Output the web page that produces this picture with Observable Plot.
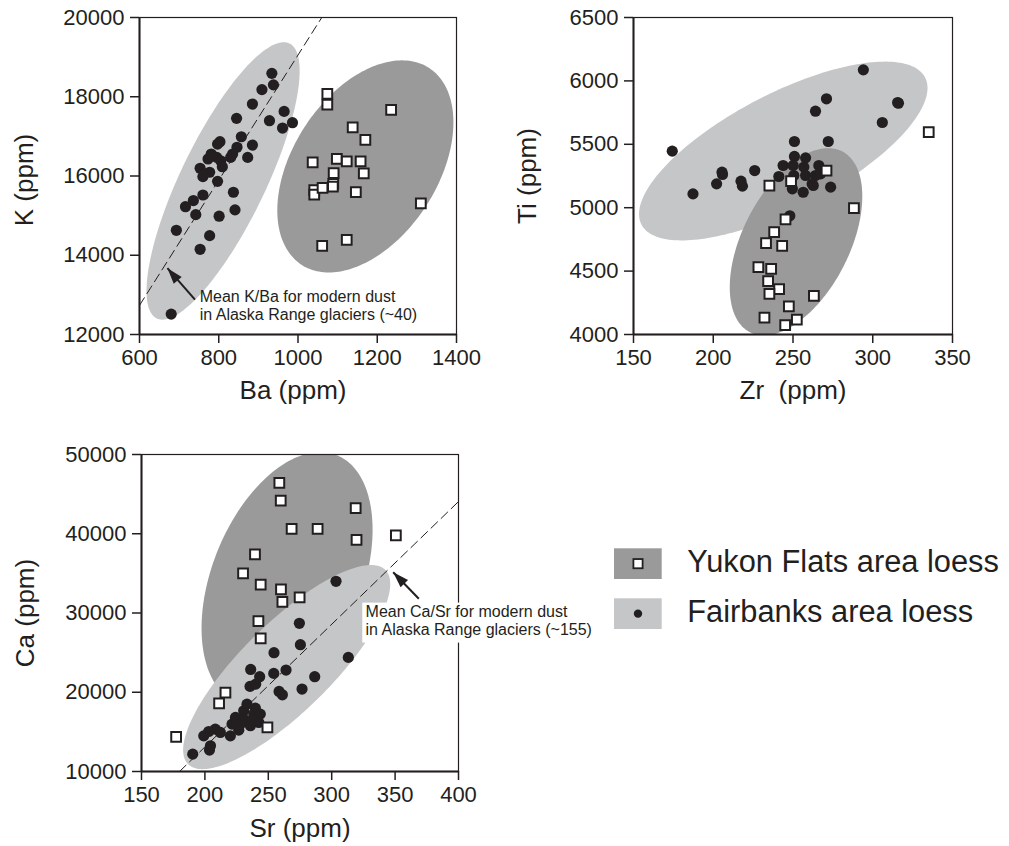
<!DOCTYPE html>
<html>
<head>
<meta charset="utf-8">
<script src="https://cdn.jsdelivr.net/npm/d3@7"></script>
<script src="https://cdn.jsdelivr.net/npm/@observablehq/plot@0.6"></script>
<style>
  html, body { margin: 0; padding: 0; background: #fff; }
  body { width: 1009px; height: 846px; overflow: hidden; position: relative; font-family: "Liberation Sans", Arial, Helvetica, sans-serif; }
  .panel { position: absolute; }
  .panel svg { display: block; overflow: visible; }
</style>
</head>
<body>
<div id="p1" class="panel" style="left:0px; top:0px;"></div>
<div id="p2" class="panel" style="left:490px; top:0px;"></div>
<div id="p3" class="panel" style="left:0px; top:420px;"></div>
<div id="legend" class="panel" style="left:600px; top:530px;"></div>
<script>
// ---------- Panel 1: K vs Ba ----------
const p1XTicks = [600, 800, 1000, 1200, 1400];
const p1YTicks = [12000, 14000, 16000, 18000, 20000];
const p1Fairbanks = [
  [934,18590],[938,18300],[909,18180],[885,17815],[965,17630],[986,17345],[961,17210],[928,17395],
  [845,17455],[857,16990],[885,16780],[873,16470],[803,16865],[797,16805],[846,16725],[835,16555],
  [830,16470],[781,16555],[773,16430],[795,16470],[805,16385],[809,16235],[753,16195],[777,16095],
  [760,15985],[797,15865],[837,15590],[760,15520],[736,15380],[716,15225],[742,15025],[801,14985],
  [841,15145],[693,14630],[777,14495],[753,14150],[680,12515]
];
const p1Yukon = [
  [1074,18070],[1074,17800],[1235,17670],[1138,17225],[1170,16910],[1037,16345],[1098,16430],
  [1123,16370],[1158,16370],[1090,16075],[1166,16065],[1041,15645],[1041,15530],[1062,15700],
  [1089,15800],[1088,15730],[1146,15590],[1310,15310],[1061,14235],[1123,14385]
];
// ellipse: [centerX, centerY, axis1X, axis1Y, axis2X, axis2Y] in data units
const p1EllipseFairbanks = [810.9, 15876, 167.4, 3470, 96.5, -464];
const p1EllipseYukon = [1170, 16242, 160.4, 2487, 153.8, -989];
const p1RatioLine = [[600, 12735], [1060, 20000]];
const p1ArrowTail = [740, 12880];
const p1ArrowHead = [670.5, 13675];
const p1NoteAt = [752, 13150];
const p1NoteText = "Mean K/Ba for modern dust\nin Alaska Range glaciers (~40)";

// ---------- Panel 2: Ti vs Zr ----------
const p2XTicks = [150, 200, 250, 300, 350];
const p2YTicks = [4000, 4500, 5000, 5500, 6000, 6500];
const p2Fairbanks = [
  [294.1,6087],[271.0,5859],[264.1,5761],[316.1,5824],[315.6,5829],[306.0,5672],[250.9,5522],
  [272.1,5522],[174.3,5446],[205.5,5280],[205.8,5262],[226.0,5293],[202.1,5188],[217.4,5209],
  [218.3,5170],[187.3,5109],[248.0,4936],
  [250.9,5404],[257.9,5393],[243.8,5333],[250.1,5333],[256.8,5320],[266.2,5333],[241.1,5246],
  [250.5,5254],[257.9,5254],[264.1,5254],[267.3,5267],[262.0,5188],[249.6,5149],[256.4,5122],
  [262.7,5175],[273.6,5162]
];
const p2Yukon = [
  [335.1,5596],[271.0,5293],[235.2,5175],[248.8,5209],[288.2,4996],[245.3,4907],[238.2,4807],
  [233.1,4720],[243.2,4699],[228.3,4531],[236.3,4518],[234.4,4421],[241.3,4357],[235.2,4321],
  [263.1,4305],[247.4,4221],[252.4,4118],[232.1,4134],[245.1,4074]
];
const p2EllipseFairbanks = [243.9, 5447, 88.9, 580.4, 16.6, -400.4];
const p2EllipseYukon = [251.9, 4731, 28.85, 713.7, 29.9, -190.6];

// ---------- Panel 3: Ca vs Sr ----------
const p3XTicks = [150, 200, 250, 300, 350, 400];
const p3YTicks = [10000, 20000, 30000, 40000, 50000];
const p3Fairbanks = [
  [303.4,34000],[274.5,28700],[275.3,26000],[254.5,24990],[313.1,24400],[236.1,22880],[254.3,22380],
  [264.0,22800],[286.6,21960],[243.2,21960],[235.6,20740],[240.1,21030],[258.5,20100],[261.1,19680],
  [276.6,20400],[233.2,18500],[239.8,18000],[230.6,17660],[238.5,17240],[243.7,17240],[224.1,16820],
  [230.6,16610],[237.2,16480],[221.4,15980],[228.0,15980],[235.9,15770],[242.5,16190],[226.7,15220],
  [220.1,14500],[208.2,15350],[212.2,14930],[203.0,15050],[199.1,14500],[204.4,13240],[203.6,12700],
  [190.4,12190]
];
const p3Yukon = [
  [258.7,46420],[259.8,44190],[318.9,43220],[268.4,40610],[288.9,40610],[350.6,39810],[319.6,39220],
  [239.5,37410],[230.1,35010],[244.0,33580],[260.0,32990],[274.7,31980],[261.1,31390],[242.2,28990],
  [244.0,26800],[216.2,19940],[211.2,18590],[249.3,15560],[177.3,14380]
];
const p3EllipseYukon = [264.8, 34295, 39.3, 15617, 54.8, -3549];
const p3EllipseFairbanks = [264.5, 23179, 77.9, 12240, 24.5, -4009];
const p3RatioLine = [[180, 10000], [400, 44060]];
const p3ArrowTail = [368.7, 31792];
const p3ArrowHead = [348.5, 35148];
const p3NoteAt = [326.7, 31140];
const p3NoteBox = [324.5, 512, 26200, 31250];
const p3NoteText = "Mean Ca/Sr for modern dust\nin Alaska Range glaciers (~155)";

// ---------- Legend ----------
const legendLabels = ["Yukon Flats area loess", "Fairbanks area loess"];

// ---------- Styling ----------
const INK = "#231f20";
const FONT = '"Liberation Sans", Arial, Helvetica, sans-serif';
const LIGHT = "#c5c6c8";
const DARK = "#9a9a9a";

function ellipseRing(e, n = 200) {
  const [cx, cy, ax, ay, bx, by] = e;
  return d3.range(n + 1).map(i => {
    const t = 2 * Math.PI * i / n;
    return [cx + ax * Math.cos(t) + bx * Math.sin(t), cy + ay * Math.cos(t) + by * Math.sin(t)];
  });
}

const headShape = {
  draw(ctx) {
    ctx.moveTo(0, 0);
    ctx.lineTo(-5.2, 16);
    ctx.lineTo(5.2, 16);
    ctx.closePath();
  }
};

function panel(o) {
  const marks = [];
  for (const [e, color] of o.ellipses) {
    marks.push(Plot.line(ellipseRing(e), {x: d => d[0], y: d => d[1], fill: color, stroke: "none", curve: "linear", clip: true}));
  }
  if (o.dash) {
    marks.push(Plot.line(o.dash, {x: d => d[0], y: d => d[1], stroke: INK, strokeWidth: 1, strokeDasharray: "9,5"}));
  }
  marks.push(Plot.dot(o.fairbanks, {x: d => d[0], y: d => d[1], r: 5.6, fill: INK, stroke: "none"}));
  marks.push(Plot.dot(o.yukon, {x: d => d[0], y: d => d[1], symbol: "square", r: 5.5, fill: "#fff", stroke: INK, strokeWidth: 2}));
  marks.push(Plot.frame({stroke: INK, strokeWidth: 1.2}));
  marks.push(Plot.ruleX([o.xTicks[0]], {stroke: INK, strokeWidth: 2}));
  marks.push(Plot.ruleY([o.yTicks[0]], {stroke: INK, strokeWidth: 2}));
  marks.push(Plot.axisX({ticks: o.xTicks, tickSize: 9, tickPadding: 6, tickFormat: "d", label: null, stroke: INK, strokeWidth: 1.5}));
  marks.push(Plot.axisY({ticks: o.yTicks, tickSize: 9, tickPadding: 6, tickFormat: "d", label: null, stroke: INK, strokeWidth: 1.5}));
  marks.push(Plot.text([o.xLabel], {text: d => d, frameAnchor: "bottom", dy: o.xLabelDy, dx: o.xLabelDx || 0, fontSize: 26, textAnchor: "middle", lineAnchor: "middle", fill: INK}));
  marks.push(Plot.text([o.yLabel], {text: d => d, frameAnchor: "left", dx: o.yLabelDx, dy: o.yLabelDy || 0, rotate: -90, fontSize: 26, textAnchor: "middle", lineAnchor: "middle", fill: INK}));
  if (o.noteBox) {
    const b = o.noteBox;
    marks.push(Plot.rect([b], {x1: d => d[0], x2: d => d[1], y1: d => d[2], y2: d => d[3], fill: "#fff", stroke: "none"}));
  }
  if (o.note) {
    marks.push(Plot.text([o.note], {x: d => d.at[0], y: d => d.at[1], text: d => d.text, fontSize: 16, lineHeight: 1.15, textAnchor: "start", lineAnchor: "top", fill: INK}));
    marks.push(Plot.link([o.note], {x1: d => d.tail[0], y1: d => d.tail[1], x2: d => d.head[0], y2: d => d.head[1], stroke: INK, strokeWidth: 2}));
    marks.push(Plot.dot([o.note], {x: d => d.head[0], y: d => d.head[1], symbol: headShape, r: 5, fill: INK, stroke: "none", rotate: o.note.angle}));
  }
  return Plot.plot({
    width: o.width, height: o.height,
    marginLeft: o.ml, marginRight: o.mr, marginTop: o.mt, marginBottom: o.mb,
    x: {domain: [o.xTicks[0], o.xTicks[o.xTicks.length - 1]]},
    y: {domain: [o.yTicks[0], o.yTicks[o.yTicks.length - 1]]},
    style: {fontFamily: FONT, fontSize: "22px", color: INK, background: "transparent", overflow: "visible"},
    marks
  });
}

document.getElementById("p1").append(panel({
  width: 480, height: 410, ml: 139, mr: 24, mt: 17, mb: 76,
  xTicks: p1XTicks, yTicks: p1YTicks,
  ellipses: [[p1EllipseFairbanks, LIGHT], [p1EllipseYukon, DARK]],
  dash: p1RatioLine,
  fairbanks: p1Fairbanks, yukon: p1Yukon,
  xLabel: "Ba (ppm)", xLabelDy: 56, xLabelDx: -5,
  yLabel: "K (ppm)", yLabelDx: -115, yLabelDy: 4,
  note: {at: p1NoteAt, text: p1NoteText, tail: p1ArrowTail, head: p1ArrowHead, angle: -40}
}));

document.getElementById("p2").append(panel({
  width: 490, height: 410, ml: 143, mr: 28, mt: 17, mb: 76,
  xTicks: p2XTicks, yTicks: p2YTicks,
  ellipses: [[p2EllipseFairbanks, LIGHT], [p2EllipseYukon, DARK]],
  fairbanks: p2Fairbanks, yukon: p2Yukon,
  xLabel: "Zr\u00a0 (ppm)", xLabelDy: 56,
  yLabel: "Ti (ppm)", yLabelDx: -106
}));

document.getElementById("p3").append(panel({
  width: 620, height: 426, ml: 141, mr: 162, mt: 34, mb: 75,
  xTicks: p3XTicks, yTicks: p3YTicks,
  ellipses: [[p3EllipseYukon, DARK], [p3EllipseFairbanks, LIGHT]],
  dash: p3RatioLine,
  fairbanks: p3Fairbanks, yukon: p3Yukon,
  xLabel: "Sr (ppm)", xLabelDy: 57,
  yLabel: "Ca (ppm)", yLabelDx: -116,
  noteBox: p3NoteBox,
  note: {at: p3NoteAt, text: p3NoteText, tail: p3ArrowTail, head: p3ArrowHead, angle: -44}
}));

// Legend (plain SVG)
const NS = "http://www.w3.org/2000/svg";
const lg = document.createElementNS(NS, "svg");
lg.setAttribute("width", 409); lg.setAttribute("height", 120);
lg.style.overflow = "visible";
const legendFills = [DARK, LIGHT];
legendLabels.forEach((label, i) => {
  const top = 18.3 + i * 50;
  const r = document.createElementNS(NS, "rect");
  r.setAttribute("x", 14); r.setAttribute("y", top); r.setAttribute("width", 47.7); r.setAttribute("height", 30.7);
  r.setAttribute("fill", legendFills[i]);
  lg.append(r);
  const cy = top + 15.35;
  if (i === 0) {
    const s = document.createElementNS(NS, "rect");
    s.setAttribute("x", 38 - 4.6); s.setAttribute("y", cy - 4.6); s.setAttribute("width", 9.2); s.setAttribute("height", 9.2);
    s.setAttribute("fill", "#fff"); s.setAttribute("stroke", INK); s.setAttribute("stroke-width", 1.8);
    lg.append(s);
  } else {
    const c = document.createElementNS(NS, "circle");
    c.setAttribute("cx", 38); c.setAttribute("cy", cy); c.setAttribute("r", 4.2); c.setAttribute("fill", INK);
    lg.append(c);
  }
  const t = document.createElementNS(NS, "text");
  t.setAttribute("x", 87.3); t.setAttribute("y", 41.7 + i * 50);
  t.setAttribute("font-family", FONT); t.setAttribute("font-size", 30.8); t.setAttribute("fill", INK);
  t.textContent = label;
  lg.append(t);
});
document.getElementById("legend").append(lg);
</script>
</body>
</html>
